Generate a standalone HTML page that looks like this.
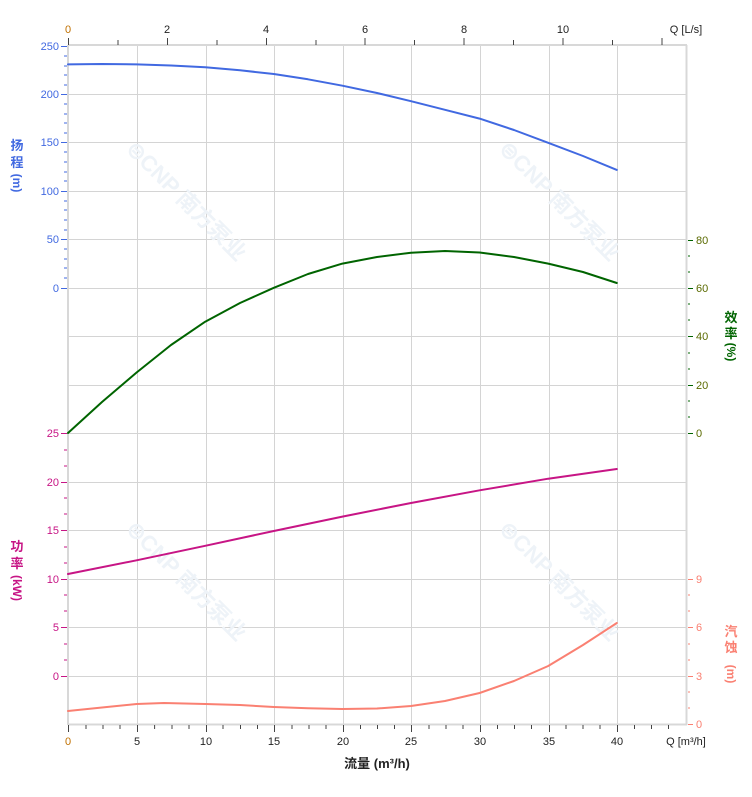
<!DOCTYPE html>
<html><head><meta charset="utf-8"><style>
body{margin:0;background:#fff}
svg{display:block;font-family:"Liberation Sans","Noto Sans CJK SC",sans-serif}
</style></head><body>
<svg width="752" height="797" viewBox="0 0 752 797" xmlns="http://www.w3.org/2000/svg">
<rect width="752" height="797" fill="#fff"/>
<g stroke="#d4d4d4" stroke-width="1">
<line x1="68" y1="94.5" x2="686" y2="94.5"/><line x1="68" y1="142.5" x2="686" y2="142.5"/><line x1="68" y1="191.5" x2="686" y2="191.5"/><line x1="68" y1="239.5" x2="686" y2="239.5"/><line x1="68" y1="288.5" x2="686" y2="288.5"/><line x1="68" y1="336.5" x2="686" y2="336.5"/><line x1="68" y1="385.5" x2="686" y2="385.5"/><line x1="68" y1="433.5" x2="686" y2="433.5"/><line x1="68" y1="482.5" x2="686" y2="482.5"/><line x1="68" y1="530.5" x2="686" y2="530.5"/><line x1="68" y1="579.5" x2="686" y2="579.5"/><line x1="68" y1="627.5" x2="686" y2="627.5"/><line x1="68" y1="676.5" x2="686" y2="676.5"/>
<line x1="137.5" y1="46" x2="137.5" y2="724"/><line x1="206.5" y1="46" x2="206.5" y2="724"/><line x1="274.5" y1="46" x2="274.5" y2="724"/><line x1="343.5" y1="46" x2="343.5" y2="724"/><line x1="411.5" y1="46" x2="411.5" y2="724"/><line x1="480.5" y1="46" x2="480.5" y2="724"/><line x1="549.5" y1="46" x2="549.5" y2="724"/><line x1="617.5" y1="46" x2="617.5" y2="724"/>
</g>
<g stroke="#d8d8d8" stroke-width="2" fill="none">
<line x1="68" y1="45" x2="687" y2="45"/><line x1="68" y1="724.5" x2="687" y2="724.5"/>
<line x1="68" y1="45" x2="68" y2="725"/><line x1="686.5" y1="45" x2="686.5" y2="725"/>
</g>
<g fill="#eef3f8" font-size="22" font-weight="bold">
<text x="125" y="150" transform="rotate(45 125 150)">⊜CNP 南方泵业</text>
<text x="498" y="150" transform="rotate(45 498 150)">⊜CNP 南方泵业</text>
<text x="125" y="530" transform="rotate(45 125 530)">⊜CNP 南方泵业</text>
<text x="498" y="530" transform="rotate(45 498 530)">⊜CNP 南方泵业</text>
</g>
<g stroke="#444" stroke-width="1">
<line x1="68.5" y1="38" x2="68.5" y2="45"/><line x1="118" y1="40" x2="118" y2="45"/><line x1="167.5" y1="38" x2="167.5" y2="45"/><line x1="217" y1="40" x2="217" y2="45"/><line x1="266.5" y1="38" x2="266.5" y2="45"/><line x1="316" y1="40" x2="316" y2="45"/><line x1="365" y1="38" x2="365" y2="45"/><line x1="414.5" y1="40" x2="414.5" y2="45"/><line x1="464" y1="38" x2="464" y2="45"/><line x1="513.5" y1="40" x2="513.5" y2="45"/><line x1="563" y1="38" x2="563" y2="45"/><line x1="612.5" y1="40" x2="612.5" y2="45"/><line x1="662" y1="38" x2="662" y2="45"/>
</g>
<g font-size="11" fill="#222" text-anchor="middle">
<text x="68" y="33" fill="#c07000">0</text><text x="167" y="33">2</text><text x="266" y="33">4</text><text x="365" y="33">6</text><text x="464" y="33">8</text><text x="563" y="33">10</text>
<text x="686" y="33">Q [L/s]</text>
</g>
<g stroke="#444" stroke-width="1">
<line x1="68.5" y1="725" x2="68.5" y2="732"/><line x1="137.5" y1="725" x2="137.5" y2="732"/><line x1="206.5" y1="725" x2="206.5" y2="732"/><line x1="274.5" y1="725" x2="274.5" y2="732"/><line x1="343.5" y1="725" x2="343.5" y2="732"/><line x1="411.5" y1="725" x2="411.5" y2="732"/><line x1="480.5" y1="725" x2="480.5" y2="732"/><line x1="549.5" y1="725" x2="549.5" y2="732"/><line x1="617.5" y1="725" x2="617.5" y2="732"/>
<line x1="86" y1="725" x2="86" y2="729"/><line x1="103" y1="725" x2="103" y2="729"/><line x1="120" y1="725" x2="120" y2="729"/><line x1="154.6" y1="725" x2="154.6" y2="729"/><line x1="172" y1="725" x2="172" y2="729"/><line x1="189" y1="725" x2="189" y2="729"/><line x1="223" y1="725" x2="223" y2="729"/><line x1="240.5" y1="725" x2="240.5" y2="729"/><line x1="257.5" y1="725" x2="257.5" y2="729"/><line x1="292" y1="725" x2="292" y2="729"/><line x1="309" y1="725" x2="309" y2="729"/><line x1="326" y1="725" x2="326" y2="729"/><line x1="360.5" y1="725" x2="360.5" y2="729"/><line x1="377.5" y1="725" x2="377.5" y2="729"/><line x1="394.5" y1="725" x2="394.5" y2="729"/><line x1="429" y1="725" x2="429" y2="729"/><line x1="446" y1="725" x2="446" y2="729"/><line x1="463" y1="725" x2="463" y2="729"/><line x1="497.5" y1="725" x2="497.5" y2="729"/><line x1="514.5" y1="725" x2="514.5" y2="729"/><line x1="531.5" y1="725" x2="531.5" y2="729"/><line x1="566" y1="725" x2="566" y2="729"/><line x1="583" y1="725" x2="583" y2="729"/><line x1="600" y1="725" x2="600" y2="729"/><line x1="634.5" y1="725" x2="634.5" y2="729"/><line x1="651.5" y1="725" x2="651.5" y2="729"/><line x1="668.5" y1="725" x2="668.5" y2="729"/>
</g>
<g font-size="11" fill="#222" text-anchor="middle">
<text x="68" y="745" fill="#c07000">0</text><text x="137" y="745">5</text><text x="206" y="745">10</text><text x="274" y="745">15</text><text x="343" y="745">20</text><text x="411" y="745">25</text><text x="480" y="745">30</text><text x="549" y="745">35</text><text x="617" y="745">40</text>
<text x="686" y="745">Q [m³/h]</text>
<text x="377" y="768" font-size="13" font-weight="bold">流量 (m³/h)</text>
</g>
<g stroke="#4169e1" stroke-width="1">
<line x1="61" y1="46.5" x2="67" y2="46.5"/><line x1="61" y1="94.5" x2="67" y2="94.5"/><line x1="61" y1="142.5" x2="67" y2="142.5"/><line x1="61" y1="191.5" x2="67" y2="191.5"/><line x1="61" y1="239.5" x2="67" y2="239.5"/><line x1="61" y1="288.5" x2="67" y2="288.5"/>
<line x1="64" y1="56" x2="67" y2="56"/><line x1="64" y1="66" x2="67" y2="66"/><line x1="64" y1="75" x2="67" y2="75"/><line x1="64" y1="85" x2="67" y2="85"/><line x1="64" y1="104" x2="67" y2="104"/><line x1="64" y1="114" x2="67" y2="114"/><line x1="64" y1="123" x2="67" y2="123"/><line x1="64" y1="133" x2="67" y2="133"/><line x1="64" y1="152" x2="67" y2="152"/><line x1="64" y1="162" x2="67" y2="162"/><line x1="64" y1="172" x2="67" y2="172"/><line x1="64" y1="181" x2="67" y2="181"/><line x1="64" y1="201" x2="67" y2="201"/><line x1="64" y1="210" x2="67" y2="210"/><line x1="64" y1="220" x2="67" y2="220"/><line x1="64" y1="230" x2="67" y2="230"/><line x1="64" y1="249" x2="67" y2="249"/><line x1="64" y1="259" x2="67" y2="259"/><line x1="64" y1="268" x2="67" y2="268"/><line x1="64" y1="278" x2="67" y2="278"/>
</g>
<g font-size="11" fill="#4169e1" text-anchor="end">
<text x="59" y="50">250</text><text x="59" y="98">200</text><text x="59" y="146">150</text><text x="59" y="195">100</text><text x="59" y="243">50</text><text x="59" y="292">0</text>
</g>
<g font-size="13" fill="#4169e1" font-weight="bold" text-anchor="middle">
<text x="17" y="150">扬</text><text x="17" y="167">程</text>
<text x="17" y="187" transform="rotate(90 17 183)" font-size="12">(m)</text>
</g>
<g stroke="#c71585" stroke-width="1">
<line x1="61" y1="433.5" x2="67" y2="433.5"/><line x1="61" y1="482.5" x2="67" y2="482.5"/><line x1="61" y1="530.5" x2="67" y2="530.5"/><line x1="61" y1="579.5" x2="67" y2="579.5"/><line x1="61" y1="627.5" x2="67" y2="627.5"/><line x1="61" y1="676.5" x2="67" y2="676.5"/>
<line x1="64" y1="450" x2="67" y2="450"/><line x1="64" y1="466" x2="67" y2="466"/><line x1="64" y1="498" x2="67" y2="498"/><line x1="64" y1="514" x2="67" y2="514"/><line x1="64" y1="547" x2="67" y2="547"/><line x1="64" y1="563" x2="67" y2="563"/><line x1="64" y1="595" x2="67" y2="595"/><line x1="64" y1="611" x2="67" y2="611"/><line x1="64" y1="644" x2="67" y2="644"/><line x1="64" y1="660" x2="67" y2="660"/>
</g>
<g font-size="11" fill="#c71585" text-anchor="end">
<text x="59" y="437">25</text><text x="59" y="486">20</text><text x="59" y="534">15</text><text x="59" y="583">10</text><text x="59" y="631">5</text><text x="59" y="680">0</text>
</g>
<g font-size="13" fill="#c71585" font-weight="bold" text-anchor="middle">
<text x="17" y="551">功</text><text x="17" y="568">率</text>
<text x="17" y="592" transform="rotate(90 17 588)" font-size="12">(kW)</text>
</g>
<g stroke="#006400" stroke-width="1">
<line x1="688" y1="240.5" x2="693" y2="240.5"/><line x1="688" y1="288.5" x2="693" y2="288.5"/><line x1="688" y1="336.5" x2="693" y2="336.5"/><line x1="688" y1="385.5" x2="693" y2="385.5"/><line x1="688" y1="433.5" x2="693" y2="433.5"/>
<line x1="688" y1="256" x2="690" y2="256"/><line x1="688" y1="272" x2="690" y2="272"/><line x1="688" y1="304" x2="690" y2="304"/><line x1="688" y1="320" x2="690" y2="320"/><line x1="688" y1="353" x2="690" y2="353"/><line x1="688" y1="369" x2="690" y2="369"/><line x1="688" y1="401" x2="690" y2="401"/><line x1="688" y1="417" x2="690" y2="417"/>
</g>
<g font-size="11" fill="#5a6a00">
<text x="696" y="244">80</text><text x="696" y="292">60</text><text x="696" y="340">40</text><text x="696" y="389">20</text><text x="696" y="437">0</text>
</g>
<g font-size="13" fill="#006400" font-weight="bold" text-anchor="middle">
<text x="731" y="322">效</text><text x="731" y="338">率</text>
<text x="731" y="356" transform="rotate(90 731 352)" font-size="12">(%)</text>
</g>
<g stroke="#fa8072" stroke-width="1">
<line x1="688" y1="579.5" x2="693" y2="579.5"/><line x1="688" y1="627.5" x2="693" y2="627.5"/><line x1="688" y1="676.5" x2="693" y2="676.5"/><line x1="688" y1="724.5" x2="693" y2="724.5"/>
<line x1="688" y1="595" x2="690" y2="595"/><line x1="688" y1="611" x2="690" y2="611"/><line x1="688" y1="644" x2="690" y2="644"/><line x1="688" y1="660" x2="690" y2="660"/><line x1="688" y1="692" x2="690" y2="692"/><line x1="688" y1="708" x2="690" y2="708"/>
</g>
<g font-size="11" fill="#fa8072">
<text x="696" y="583">9</text><text x="696" y="631">6</text><text x="696" y="680">3</text><text x="696" y="728">0</text>
</g>
<g font-size="13" fill="#fa8072" font-weight="bold" text-anchor="middle">
<text x="731" y="636">汽</text><text x="731" y="652">蚀</text>
<text x="731" y="678" transform="rotate(90 731 674)" font-size="12">(m)</text>
</g>
<g fill="none" stroke-width="2" stroke-linejoin="round" stroke-linecap="round">
<polyline stroke="#4169e1" points="68,64.4 102,64 136.6,64.4 171,65.5 205.2,67.3 240,70.3 273.8,74 308,79.3 342.4,85.7 377,93 411,101.2 445,109.8 479.6,118.6 514,130 548.2,142.8 583,156 616.8,169.9"/>
<polyline stroke="#006400" points="68,433 102,402 136.6,372.5 171,345 205.2,321.7 240,303 273.8,287.8 308,274 342.4,263.6 377,257 411,252.7 445,251 479.6,252.5 514,257 548.2,263.6 583,272 616.8,283"/>
<polyline stroke="#c71585" points="68,574 136.6,560.3 205.2,545.8 273.8,531 342.4,516.6 411,503 479.6,490.3 548.2,478.7 616.8,469"/>
<polyline stroke="#fa8072" points="68,711 102,707.5 136.6,704 164,703 205.2,704 240,705 273.8,707 308,708.3 342.4,709 377,708.5 411,706 445,701 479.6,693 514,681 548.2,666 583,645 616.8,623"/>
</g>
</svg>
</body></html>
